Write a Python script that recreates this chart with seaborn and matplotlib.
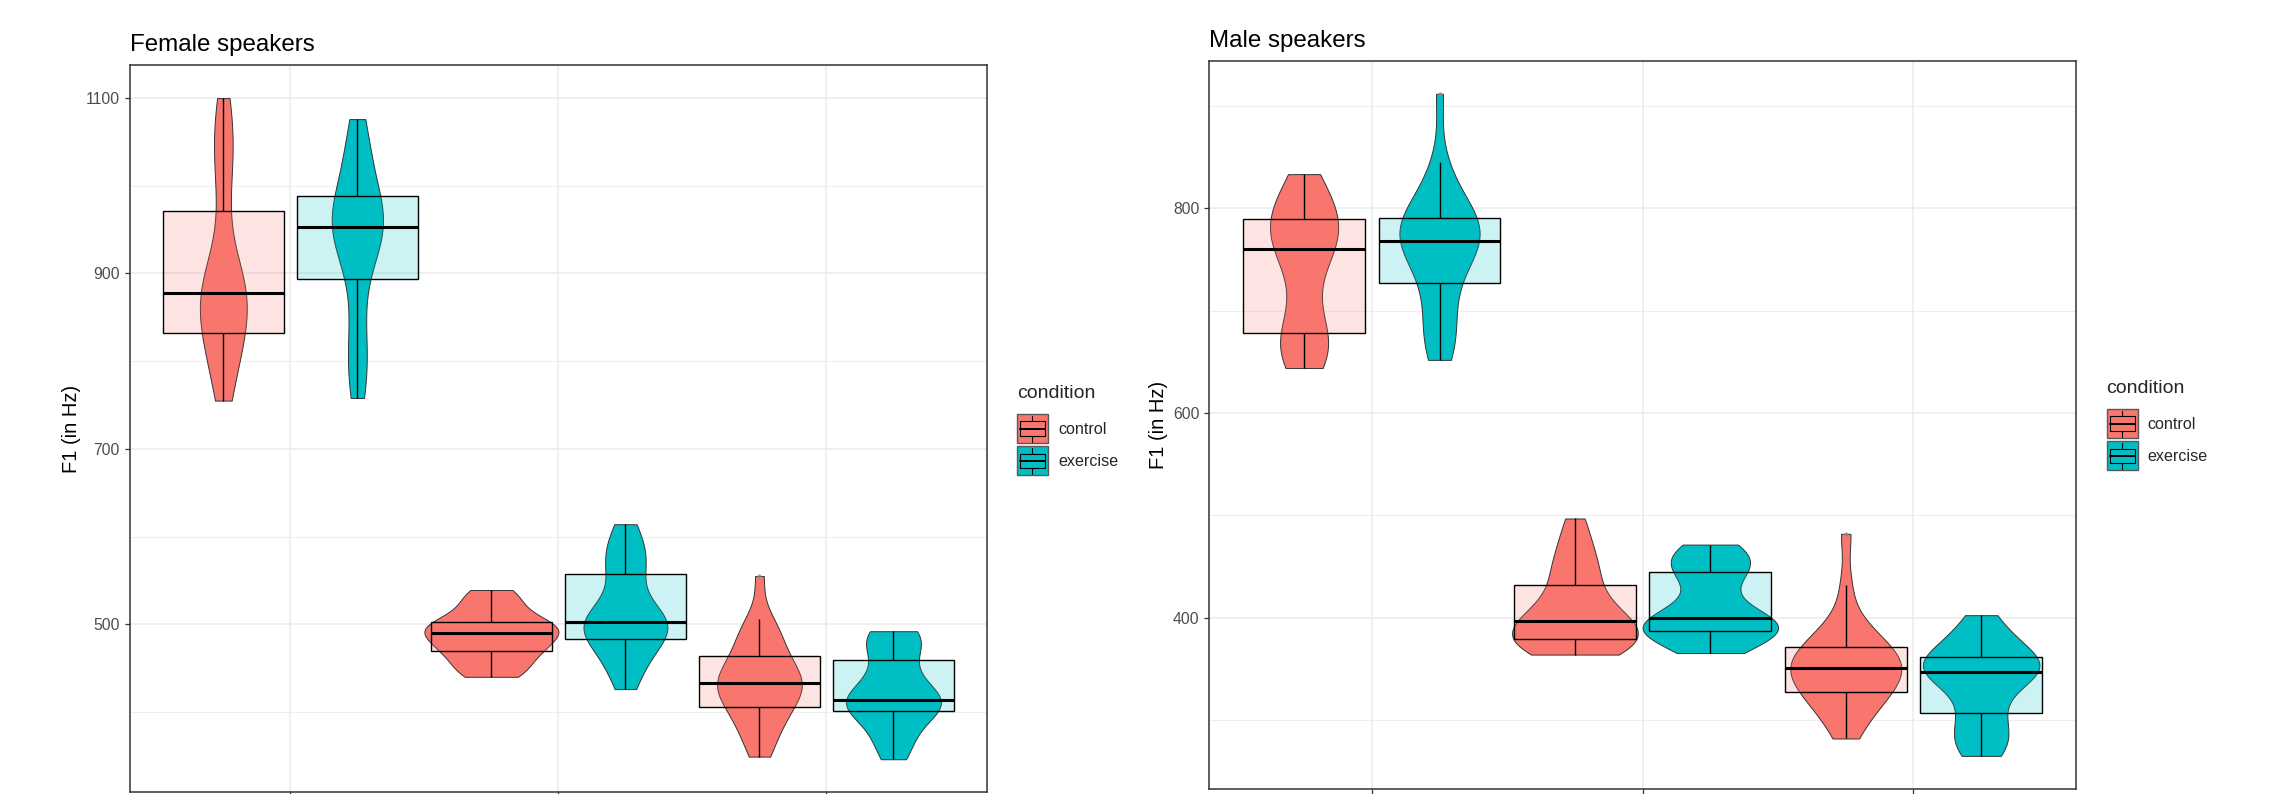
import numpy as np
import pandas as pd
import matplotlib
matplotlib.use("Agg")
import matplotlib.pyplot as plt
import seaborn as sns
from matplotlib.colors import to_rgba
from matplotlib.patches import Rectangle, Patch
from matplotlib.lines import Line2D
from matplotlib.legend_handler import HandlerBase

# ---------------------------------------------------------------------------
# Data: first formant (F1, Hz) per vowel and condition
# ---------------------------------------------------------------------------
vowels = ["a", "e", "i"]
conditions = ["control", "exercise"]
palette = {"control": "#F8766D", "exercise": "#00BFC4"}

female_a_control = [755, 772, 790, 805, 815, 825, 832, 845, 853, 860, 866, 872, 877.5,
                    882, 887, 893, 900, 910, 971, 1000, 1030, 1048, 1058, 1075, 1100]
female_a_exercise = [758, 775, 795, 810, 830, 860, 894, 915, 930, 940, 945, 949, 953,
                     956, 960, 964, 970, 978, 988, 1000, 1015, 1030, 1045, 1060, 1076]
female_e_control = [440, 442, 447, 453, 459, 464, 469, 472, 475, 478, 482, 486, 490,
                    492, 494, 496, 498, 500, 503, 508, 514, 521, 528, 535, 539]
female_e_exercise = [426, 440, 452, 462, 470, 477, 483, 488, 492, 496, 499, 501, 503,
                     506, 510, 515, 522, 540, 557.5, 565, 572, 580, 590, 602, 614]
female_i_control = [349, 362, 375, 385, 393, 400, 406, 412, 418, 423, 427, 430, 433,
                    436, 440, 445, 450, 457, 464, 472, 480, 490, 498, 506, 555]
female_i_exercise = [346, 356, 366, 376, 386, 394, 401, 404, 407, 409, 411, 413, 414,
                     418, 424, 431, 438, 446, 459, 470, 478, 484, 488, 490, 492]

male_a_control = [644, 650, 655, 661, 666, 672, 678.5, 690, 705, 725, 742, 752, 760,
                  765, 770, 774, 778, 783, 790, 795, 800, 808, 815, 823, 833.5]
male_a_exercise = [652, 662, 672, 684, 697, 712, 727, 738, 748, 755, 760, 764, 768,
                   772, 776, 780, 784, 787, 791, 796, 803, 812, 825, 845, 912]
male_e_control = [364, 366, 368, 370, 372, 375, 379, 382, 385, 388, 391, 394, 397,
                  400, 404, 409, 415, 423, 432, 440, 448, 457, 467, 480, 497]
male_e_exercise = [365.5, 370, 375, 379, 382, 385, 387, 389, 392, 394, 396, 398, 400,
                   403, 408, 420, 432, 440, 445, 450, 455, 459, 463, 467, 471.5]
male_i_control = [282, 295, 305, 313, 319, 324, 327.5, 332, 336, 340, 344, 348, 351,
                  354, 357, 360, 363, 367, 371, 376, 382, 390, 400, 432, 482]
male_i_exercise = [265, 270, 276, 283, 291, 299, 306.7, 318, 330, 337, 341, 344, 346.7,
                   349, 352, 354, 356, 359, 362, 366, 371, 377, 384, 392, 402.5]

female_major = [500, 700, 900, 1100]
female_minor = [400, 600, 800, 1000]
male_major = [400, 600, 800]
male_minor = [300, 500, 700, 900]


def long_table(groups):
    rows = []
    for (vowel, cond), values in groups.items():
        for v in values:
            rows.append({"vowel": vowel, "condition": cond, "F1": v})
    return pd.DataFrame(rows)


female = long_table({
    ("a", "control"): female_a_control, ("a", "exercise"): female_a_exercise,
    ("e", "control"): female_e_control, ("e", "exercise"): female_e_exercise,
    ("i", "control"): female_i_control, ("i", "exercise"): female_i_exercise,
})
male = long_table({
    ("a", "control"): male_a_control, ("a", "exercise"): male_a_exercise,
    ("e", "control"): male_e_control, ("e", "exercise"): male_e_exercise,
    ("i", "control"): male_i_control, ("i", "exercise"): male_i_exercise,
})

# ---------------------------------------------------------------------------
# Styling
# ---------------------------------------------------------------------------
sns.set_style("white")
plt.rcParams["font.family"] = ["Liberation Sans", "DejaVu Sans"]

GRID = "#EBEBEB"
DARK = "#333333"


class BoxViolinKey(HandlerBase):
    """Legend key: filled violin square with a boxplot glyph on top."""

    def create_artists(self, legend, orig_handle, xdescent, ydescent,
                       width, height, fontsize, trans):
        color = orig_handle.get_facecolor()
        x0, y0 = -xdescent, -ydescent
        bg = Rectangle((x0, y0), width, height, facecolor=color,
                       edgecolor="#595959", lw=1.0, transform=trans)
        box = Rectangle((x0 + 0.1 * width, y0 + 0.25 * height),
                        0.8 * width, 0.5 * height,
                        facecolor=to_rgba(color, 0.2), edgecolor="black",
                        lw=0.8, transform=trans)
        xm = x0 + width / 2
        w_lo = Line2D([xm, xm], [y0 + 0.05 * height, y0 + 0.25 * height],
                      color="black", lw=0.8, transform=trans)
        w_hi = Line2D([xm, xm], [y0 + 0.75 * height, y0 + 0.95 * height],
                      color="black", lw=0.8, transform=trans)
        med = Line2D([x0 + 0.1 * width, x0 + 0.9 * width],
                     [y0 + 0.5 * height] * 2, color="black", lw=1.4,
                     transform=trans)
        return [bg, box, w_lo, w_hi, med]


def draw_panel(ax, df, title, major, minor, label_x, title_pad):
    # all violins share one density scale (widest one spans the full slot)
    sns.violinplot(data=df, x="vowel", y="F1", hue="condition",
                   order=vowels, hue_order=conditions, palette=palette,
                   width=1.0, dodge=True, cut=0, density_norm="area",
                   common_norm=True, inner=None, saturation=1,
                   linecolor=DARK, linewidth=0.7, bw_adjust=0.85,
                   legend=False, ax=ax)
    sns.boxplot(data=df, x="vowel", y="F1", hue="condition",
                order=vowels, hue_order=conditions, palette=palette,
                width=1.0, gap=0.1, dodge=True, saturation=1,
                linecolor="black", linewidth=1.0, whis=1.5,
                fliersize=3,
                flierprops={"marker": "o", "markerfacecolor": "#8a8a8a",
                            "markeredgecolor": "none", "alpha": 0.8},
                medianprops={"linewidth": 2.2},
                capprops={"linewidth": 0},
                legend=False, ax=ax)
    # translucent box fill so the violin shows through
    for p in ax.patches:
        fc = p.get_facecolor()
        p.set_facecolor(to_rgba(fc[:3], 0.2))

    values = df["F1"].to_numpy()
    lo, hi = values.min(), values.max()
    pad = 0.05 * (hi - lo)
    ax.set_ylim(lo - pad, hi + pad)
    ax.set_xlim(-0.6, 2.6)

    ax.set_yticks(major)
    ax.set_yticks(minor, minor=True)
    ax.set_xticks(range(len(vowels)))
    ax.set_xticklabels([])
    ax.set_xlabel("")
    ax.set_ylabel("F1 (in Hz)", fontsize=14.5, color="black")
    ax.yaxis.set_label_coords(label_x, 0.5)

    ax.set_axisbelow(True)
    ax.grid(True, which="major", color=GRID, lw=1.1)
    ax.grid(True, which="minor", axis="y", color=GRID, lw=0.6)
    ax.tick_params(axis="both", which="major", length=3.6, width=0.9,
                   color=DARK, labelsize=11.3, labelcolor="#4D4D4D", pad=3.5,
                   left=True, bottom=True)
    ax.tick_params(axis="y", which="minor", length=0)
    for s in ax.spines.values():
        s.set_visible(True)
        s.set_color(DARK)
        s.set_linewidth(1.1)

    ax.set_title(title, loc="left", fontsize=17.4, pad=title_pad, color="black")


fig = plt.figure(figsize=(22.72, 7.94), dpi=100)
ax_f = fig.add_axes([0.05700, 0.00214, 0.37755, 0.91600])
ax_m = fig.add_axes([0.53226, 0.00630, 0.38147, 0.91725])

draw_panel(ax_f, female, "Female speakers", female_major, female_minor, -0.057, 9.8)
draw_panel(ax_m, male, "Male speakers", male_major, male_minor, -0.0475, 10.2)

handles = [Patch(facecolor=palette[c]) for c in conditions]
for ax, anchor in ((ax_f, (0.4476, 0.5146)), (ax_m, (0.9272, 0.5209))):
    leg = ax.legend(handles=handles, labels=conditions, title="condition",
                    handler_map={Patch: BoxViolinKey()}, loc="upper left",
                    bbox_to_anchor=anchor, bbox_transform=fig.transFigure,
                    frameon=False, borderpad=0, borderaxespad=0,
                    fontsize=11.6, title_fontsize=14, handlelength=1.93,
                    handleheight=2.39, labelspacing=0.2, handletextpad=0.62,
                    alignment="left")
    # extra room between the legend title and the keys
    leg._legend_box.sep = 8.4

fig.savefig("out.png", dpi=100)
